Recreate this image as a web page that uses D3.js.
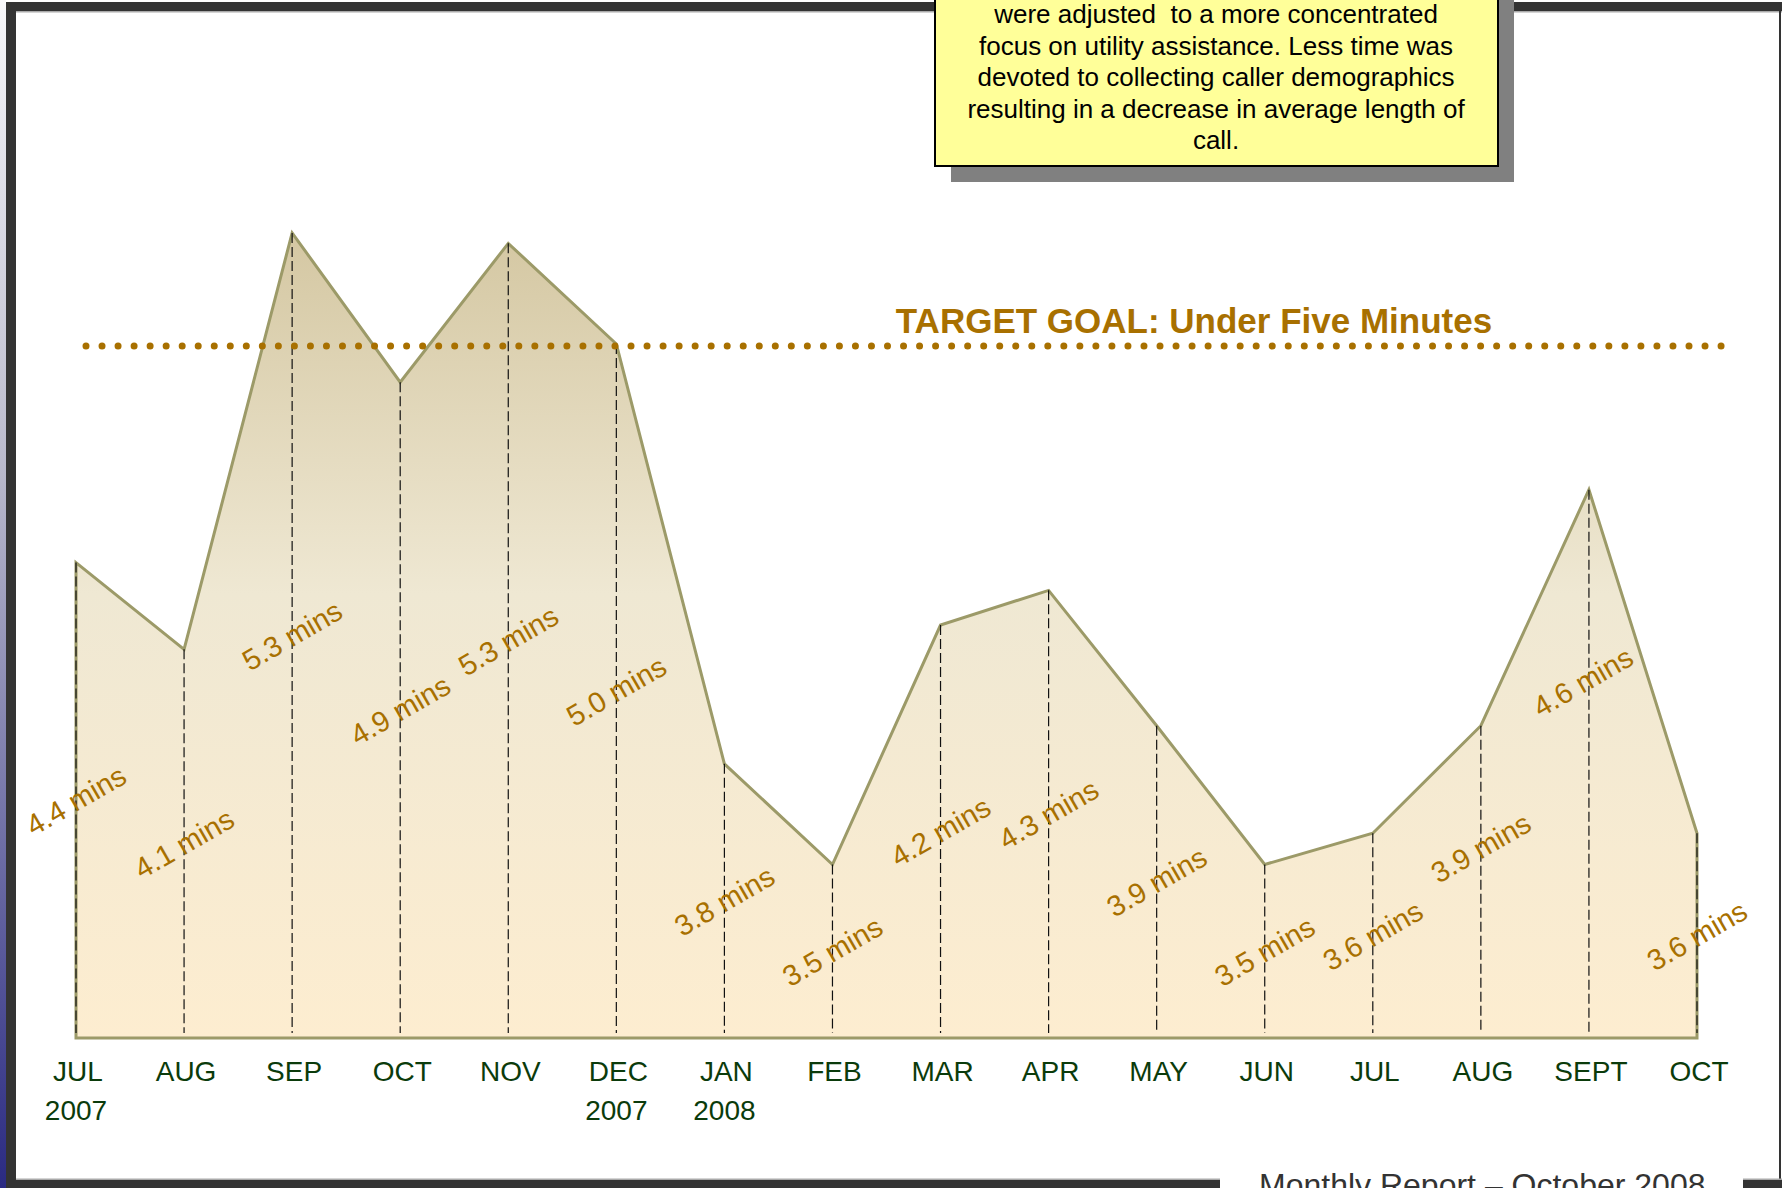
<!DOCTYPE html>
<html>
<head>
<meta charset="utf-8">
<script src="https://cdn.jsdelivr.net/npm/d3@7"></script>
<style>
  body { margin: 0; background: #fff; }
  svg { display: block; }
  text { font-family: Arial, "Liberation Sans", sans-serif; }
  .note-line { white-space: pre; }
</style>
</head>
<body>
<div id="chart"></div>
<script>
// data
var months = ["JUL", "AUG", "SEP", "OCT", "NOV", "DEC", "JAN", "FEB", "MAR", "APR", "MAY", "JUN", "JUL", "AUG", "SEPT", "OCT"];
var years = ["2007", "", "", "", "", "2007", "2008", "", "", "", "", "", "", "", "", ""];
var avgMinutes = [4.37, 4.12, 5.32, 4.89, 5.29, 5.0, 3.79, 3.5, 4.19, 4.29, 3.9, 3.5, 3.59, 3.9, 4.58, 3.59];
var valueLabels = ["4.4 mins", "4.1 mins", "5.3 mins", "4.9 mins", "5.3 mins", "5.0 mins", "3.8 mins", "3.5 mins",
  "4.2 mins", "4.3 mins", "3.9 mins", "3.5 mins", "3.6 mins", "3.9 mins", "4.6 mins", "3.6 mins"];
var targetGoal = 5.0;
var targetText = "TARGET GOAL: Under Five Minutes";
var noteLines = [
  "were adjusted  to a more concentrated",
  "focus on utility assistance. Less time was",
  "devoted to collecting caller demographics",
  "resulting in a decrease in average length of",
  "call."
];
var footerText = "Monthly Report \u2013 October 2008";

var width = 1782, height = 1188;

var svg = d3.select("#chart")
  .append("svg")
  .attr("width", width)
  .attr("height", height);

var defs = svg.append("defs");

// tan -> peach fill of the area
var areaGrad = defs.append("linearGradient")
  .attr("id", "areaGrad")
  .attr("gradientUnits", "userSpaceOnUse")
  .attr("x1", 0).attr("x2", 0)
  .attr("y1", 230).attr("y2", 1038);
areaGrad.append("stop").attr("offset", 0).attr("stop-color", "#d4c7a2");
areaGrad.append("stop").attr("offset", 0.45).attr("stop-color", "#efe8d3");
areaGrad.append("stop").attr("offset", 1).attr("stop-color", "#fdedd0");

// blue strip on the left edge of the slide
var sideGrad = defs.append("linearGradient")
  .attr("id", "sideGrad")
  .attr("x1", 0).attr("x2", 0)
  .attr("y1", 0).attr("y2", 1);
sideGrad.append("stop").attr("offset", 0).attr("stop-color", "#f8f8fa");
sideGrad.append("stop").attr("offset", 0.4).attr("stop-color", "#b8b8cb");
sideGrad.append("stop").attr("offset", 1).attr("stop-color", "#2a2a82");

svg.append("rect")
  .attr("width", width)
  .attr("height", height)
  .attr("fill", "#fff");

// scales
var xScale = d3.scalePoint()
  .domain(d3.range(months.length))
  .range([76, 1697]);

var yScale = d3.scaleLinear()
  .domain([3, targetGoal])
  .range([1038, 344]);

var g = svg.append("g");

// area
var area = d3.area()
  .x((d, i) => xScale(i))
  .y0(yScale(3))
  .y1(d => yScale(d));

g.append("path")
  .datum(avgMinutes)
  .attr("d", d => area(d) + "Z")
  .attr("fill", "url(#areaGrad)")
  .attr("stroke", "#9c9a68")
  .attr("stroke-width", 3)
  .attr("stroke-linejoin", "miter");

// dashed drop lines
g.selectAll(".drop")
  .data(avgMinutes)
  .enter()
  .append("line")
  .attr("class", "drop")
  .attr("x1", (d, i) => xScale(i))
  .attr("x2", (d, i) => xScale(i))
  .attr("y1", d => yScale(d))
  .attr("y2", yScale(3) - 5)
  .attr("stroke", "#111")
  .attr("stroke-width", 1.2)
  .attr("stroke-dasharray", "10,4");

// target line, dotted
g.append("line")
  .attr("x1", 86)
  .attr("x2", 1724)
  .attr("y1", yScale(targetGoal) + 2)
  .attr("y2", yScale(targetGoal) + 2)
  .attr("stroke", "#a87000")
  .attr("stroke-width", 7)
  .attr("stroke-linecap", "round")
  .attr("stroke-dasharray", "0,16.03");

g.append("text")
  .attr("x", 1194)
  .attr("y", yScale(targetGoal) - 11)
  .attr("text-anchor", "middle")
  .attr("font-size", 35)
  .attr("font-weight", "bold")
  .attr("fill", "#a87000")
  .text(targetText);

// value labels, placed halfway down the area and tilted;
// the last two were dragged up by hand on the slide
var labelShift = { 13: [0, -34], 14: [-6, -82] };
g.selectAll(".val")
  .data(avgMinutes)
  .enter()
  .append("text")
  .attr("class", "val")
  .attr("transform", (d, i) => {
    var s = labelShift[i] || [0, 0];
    var cx = xScale(i) + s[0];
    var cy = (yScale(d) + yScale(3)) / 2 + s[1];
    return `translate(${cx},${cy}) rotate(-30)`;
  })
  .attr("text-anchor", "middle")
  .attr("dy", "0.35em")
  .attr("font-size", 29)
  .attr("fill", "#a87000")
  .text((d, i) => valueLabels[i]);

// x axis labels
var xLabels = g.append("g").attr("class", "x axis");
xLabels.selectAll(".month")
  .data(months)
  .enter()
  .append("text")
  .attr("class", "month")
  .attr("x", (d, i) => xScale(i) + 2)
  .attr("y", 1081)
  .attr("text-anchor", "middle")
  .attr("font-size", 28)
  .attr("fill", "#0b3b0b")
  .text(d => d);

xLabels.selectAll(".year")
  .data(years)
  .enter()
  .append("text")
  .attr("class", "year")
  .attr("x", (d, i) => xScale(i))
  .attr("y", 1120)
  .attr("text-anchor", "middle")
  .attr("font-size", 28)
  .attr("fill", "#0b3b0b")
  .text(d => d);

// slide frame
var frame = svg.append("g");
frame.append("rect").attr("x", 0).attr("y", 2).attr("width", width).attr("height", 9).attr("fill", "#333");
frame.append("rect").attr("x", 16).attr("y", 11).attr("width", width - 16).attr("height", 1.5).attr("fill", "#aaa");
frame.append("rect").attr("x", 0).attr("y", 0).attr("width", 6).attr("height", height).attr("fill", "url(#sideGrad)");
frame.append("rect").attr("x", 6).attr("y", 2).attr("width", 10).attr("height", height).attr("fill", "#333");
frame.append("rect").attr("x", 1779).attr("y", 2).attr("width", 2).attr("height", height).attr("fill", "#333");
frame.append("rect").attr("x", 16).attr("y", 1178.5).attr("width", width - 16).attr("height", 1.5).attr("fill", "#aaa");
frame.append("rect").attr("x", 6).attr("y", 1180).attr("width", width).attr("height", 8).attr("fill", "#333");

// footer sits in a gap of the bottom bar, cut by the slide edge
frame.append("rect").attr("x", 1220).attr("y", 1160).attr("width", 523).attr("height", 28).attr("fill", "#fff");
frame.append("text")
  .attr("x", 1259)
  .attr("y", 1196)
  .attr("font-size", 32)
  .attr("fill", "#333")
  .text(footerText);

// yellow note box with shadow
var note = svg.append("g");
note.append("rect")
  .attr("x", 951).attr("y", -40)
  .attr("width", 563).attr("height", 222)
  .attr("fill", "#808080");
note.append("rect")
  .attr("x", 935).attr("y", -60)
  .attr("width", 563).attr("height", 226)
  .attr("fill", "#ffff99")
  .attr("stroke", "#000")
  .attr("stroke-width", 2);
note.selectAll("text")
  .data(noteLines)
  .enter()
  .append("text")
  .attr("class", "note-line")
  .attr("x", 1216)
  .attr("y", (d, i) => 23 + i * 31.5)
  .attr("text-anchor", "middle")
  .attr("font-size", 26)
  .attr("fill", "#000")
  .text(d => d);
</script>
</body>
</html>
